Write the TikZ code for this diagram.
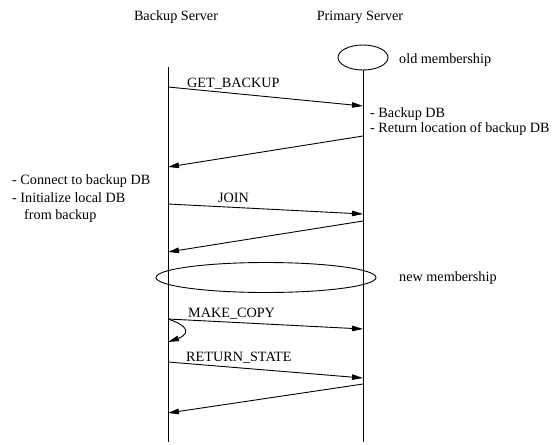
\documentclass[tikz,border=0pt]{standalone}
\usepackage{fontspec}
\setmainfont{Liberation Serif}
\usetikzlibrary{arrows.meta,shapes.geometric}
\begin{document}
\begin{tikzpicture}[x=1pt,y=-1pt,
  lbl/.style={anchor=base west,inner sep=0pt,font=\fontsize{14.2}{17}\selectfont},
  hdr/.style={anchor=base,inner sep=0pt,font=\fontsize{14.2}{17}\selectfont},
  life/.style={line width=0.9pt},
  msg/.style={line width=0.9pt,-{Triangle[length=11pt,width=5.5pt]}},
  memb/.style={draw,ellipse,line width=0.9pt,inner sep=0pt}]
\useasboundingbox (0,0) rectangle (553,444);
% headers
\node[hdr] (hb) at (176,21) {Backup Server};
\node[hdr] (hp) at (360,21) {Primary Server};
% memberships
\node[memb,minimum width=50pt,minimum height=25pt] (old) at (363,57.5) {};
\node[lbl] (oldt) at (399,63.5) {old membership};
\node[memb,minimum width=220pt,minimum height=30pt] (new) at (266,277.5) {};
\node[lbl] (newt) at (399,281.5) {new membership};
% lifelines
\coordinate (btop) at (168,67);
\coordinate (bbot) at (168,442);
\coordinate (pbot) at (363,442);
\draw[life] (btop) -- (bbot);
\draw[life] (old.south) -- (pbot);
% message endpoints
\coordinate (b1) at (168,87);   \coordinate (p1) at (363,106);
\coordinate (p2) at (363,136);  \coordinate (b2) at (168,167);
\coordinate (b3) at (168,204);  \coordinate (p3) at (363,214);
\coordinate (p4) at (363,221);  \coordinate (b4) at (168,252);
\coordinate (b5) at (168,319);  \coordinate (p5) at (363,329);
\coordinate (b6) at (168,342);
\coordinate (b7) at (168,362);  \coordinate (p7) at (363,378);
\coordinate (p8) at (363,384);  \coordinate (b8) at (168,413);
\draw[msg] (b1) -- (p1);
\draw[msg] (p2) -- (b2);
\draw[msg] (b3) -- (p3);
\draw[msg] (p4) -- (b4);
\draw[msg] (b5) -- (p5);
\draw[msg] (b5) .. controls (195,328) and (185,336) .. (b6);
\draw[msg] (b7) -- (p7);
\draw[msg] (p8) -- (b8);
% labels
\node[lbl] (l1) at (187,87) {GET\_BACKUP};
\node[lbl] (t1) at (370,117.5) {- Backup DB};
\node[lbl] (t2) at (370,132) {- Return location of backup DB};
\node[lbl] (t3) at (12,184.5) {- Connect to backup DB};
\node[lbl] (t4) at (12,202) {- Initialize local DB};
\node[lbl] (t5) at (24,219.5) {from backup};
\node[lbl] (l3) at (218,202) {JOIN};
\node[lbl] (l5) at (188,317.5) {MAKE\_COPY};
\node[lbl] (l7) at (186,361.5) {RETURN\_STATE};
\end{tikzpicture}
\end{document}
